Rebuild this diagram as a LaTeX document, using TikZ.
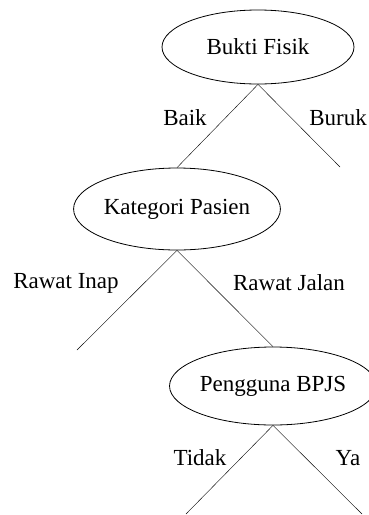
\documentclass[tikz,border=0pt]{standalone}
\usepackage{fontspec}
\setmainfont{Liberation Serif}
\usepackage{tikz}
\usetikzlibrary{shapes.geometric}

\begin{document}
\begin{tikzpicture}[x=1pt,y=-1pt]
			\tikzstyle{every node}+=[inner sep=0pt,font=\fontsize{23}{27}\selectfont]
			\tikzstyle{attr}=[draw=black,ellipse,line width=0.8pt]
			\useasboundingbox (0,0) rectangle (369,515);
			\node [attr,minimum width=192pt,minimum height=74pt] (bukti) at (258,47) {Bukti Fisik};
			\node [attr,minimum width=203pt,minimum height=82pt] (kategori) at (177,209) {Kategori Pasien};
			\node [attr,minimum width=190pt,minimum height=78pt] (bpjs) at (273,386) {Pengguna BPJS};
			\coordinate (buruk) at (340,167);
			\coordinate (inap) at (77,350);
			\coordinate (tidak) at (186,514);
			\coordinate (ya) at (362,514);
			\draw [black] (bukti.south) -- (kategori.north);
			\draw [black] (bukti.south) -- (buruk);
			\draw [black] (kategori.south) -- (inap);
			\draw [black] (kategori.south) -- (bpjs.north);
			\draw [black] (bpjs.south) -- (tidak);
			\draw [black] (bpjs.south) -- (ya);
			\node (lbaik) at (185,118) {Baik};
			\node (lburuk) at (338,118) {Buruk};
			\node (linap) at (66,283) {Rawat Inap};
			\node (ljalan) at (289,283) {Rawat Jalan};
			\node (ltidak) at (200,458) {Tidak};
			\node (lya) at (348,458) {Ya};
\end{tikzpicture}
\end{document}
